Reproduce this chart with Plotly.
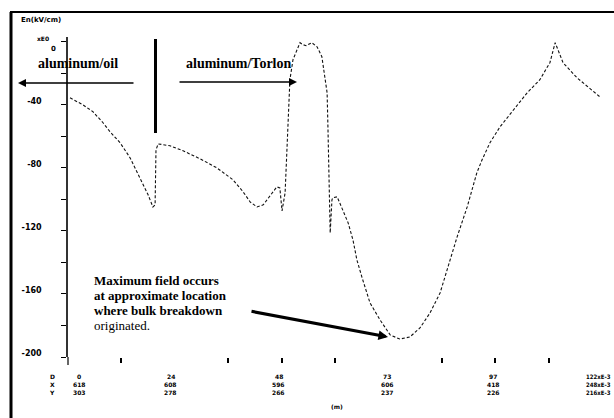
import plotly.graph_objects as go

# ---- data (distance along surface D, normal field En in kV/cm) ----
distance = [0.46, 3.4, 5.7, 8.0, 9.6, 11.9, 14.2, 16.4, 18.3, 19.4, 19.9, 20.1, 20.6,
            23.3, 26.3, 30.2, 34.0, 37.7, 40.0, 41.6, 43.2, 44.6, 46.2, 47.7, 48.4, 48.9,
            49.6, 50.0, 50.3, 50.5, 50.7, 51.4, 52.3, 53.0, 53.7, 54.4, 55.7, 56.9, 58.0,
            58.7, 59.2, 59.4, 59.6, 59.9, 60.3, 60.5, 61.5, 62.8, 64.0, 65.1, 66.0, 67.2,
            69.0, 71.3, 73.6, 75.8, 78.1, 80.4, 82.7, 85.0, 86.8, 88.9, 91.2, 93.4, 94.6,
            96.4, 98.7, 101.7, 104.9, 107.8, 110.1, 111.3, 113.1, 116.3, 121.5]
field = [-35.6, -40.0, -44.4, -51.4, -57.1, -64.1, -73.7, -85.7, -97.1, -104.8, -103.5, -68.6, -64.8,
         -66.0, -69.2, -74.3, -80.0, -87.6, -95.2, -101.6, -104.8, -103.5, -97.8, -92.1, -92.7, -107.3,
         -95.9, -70.5, -49.5, -36.8, -24.1, -11.4, -5.1, -0.6, -1.9, -2.5, -0.6, -3.2, -9.5,
         -22.2, -32.4, -55.9, -81.3, -121.3, -100.3, -99.0, -98.4, -106.7, -114.9, -125.7, -138.4, -149.8,
         -165.7, -176.5, -186.0, -188.6, -187.3, -181.6, -172.1, -159.4, -142.9, -123.8, -104.8, -83.2, -74.9,
         -64.1, -54.0, -43.2, -32.4, -24.1, -13.3, -0.6, -13.3, -22.9, -34.9]

y_tickvals = [0, -40, -80, -120, -160, -200]
y_ticktext = ["", "-40", "-80", "-120", "-160", "-200"]
y_zero_label = "0"
y_minor = [-20, -60, -100, -140, -180]
x_tickvals = [12.2, 36.6, 48.8, 61.0, 85.4, 97.6, 109.8]

# bottom readout table
row_names = ["D", "X", "Y"]
col_pos = [2.6, 23.5, 48.2, 72.9, 97.1]
col_d = ["0", "24", "48", "73", "97"]
col_x = ["618", "608", "596", "606", "418"]
col_y = ["303", "278", "266", "237", "226"]
last_col = ["122xE-3", "248xE-3", "216xE-3"]

W, H = 614, 418
L, R, T, B = 68, 12, 37, 61
PW, PH = W - L - R, H - T - B


def px(x):
    return (x - L) / PW


def py(y):
    return (H - B - y) / PH


fig = go.Figure()
fig.add_trace(go.Scatter(x=distance, y=field, mode="lines",
                         line=dict(color="#111111", width=1.1, dash="3px,2px"),
                         showlegend=False, hoverinfo="skip"))

sans = "DejaVu Sans"
narrow = "Liberation Sans Narrow, DejaVu Sans Condensed, Liberation Sans"
serif = "Liberation Serif"
ann = []

# header
ann.append(dict(text="<b>En(kV/cm)</b>", x=px(19), y=py(20), xanchor="left", yanchor="middle",
                font=dict(family=sans, size=7, color="black")))
ann.append(dict(text="<b>xE0</b>", x=px(35), y=py(39), xanchor="left", yanchor="middle",
                font=dict(family=sans, size=6, color="black")))
ann.append(dict(text="<b>%s</b>" % y_zero_label, x=px(49), y=py(49), xanchor="left", yanchor="middle",
                font=dict(family=sans, size=7, color="black")))

# region labels
ann.append(dict(text="<b>aluminum/oil</b>", x=px(36), y=py(63), xanchor="left", yanchor="middle",
                font=dict(family=serif, size=14, color="black")))
ann.append(dict(text="<b>aluminum/Torlon</b>", x=px(184), y=py(63), xanchor="left", yanchor="middle",
                font=dict(family=serif, size=14, color="black")))

# region arrows
ann.append(dict(text="", x=px(18), y=py(83), ax=117, ay=0, showarrow=True,
                arrowhead=2, arrowsize=1, arrowwidth=1.6, arrowcolor="black"))
ann.append(dict(text="", x=px(297), y=py(82), ax=-119, ay=0, showarrow=True,
                arrowhead=2, arrowsize=1, arrowwidth=1.6, arrowcolor="black"))

# note text
note = ["Maximum field occurs", "at approximate location", "where bulk breakdown", "originated."]
for i, line in enumerate(note):
    ann.append(dict(text=("<b>%s</b>" % line) if i < 3 else line, x=px(92), y=py(280 + 15 * i),
                    xanchor="left", yanchor="middle",
                    font=dict(family=serif, size=13, color="black")))
ann.append(dict(text="", x=px(388), y=py(337), ax=-138, ay=-26, showarrow=True,
                arrowhead=2, arrowsize=0.6, arrowwidth=3.2, arrowcolor="black"))

# bottom readout
row_y = [376, 384, 392]
for r, name in enumerate(row_names):
    ann.append(dict(text="<b>%s</b>" % name, x=px(52), y=py(row_y[r]), xanchor="center", yanchor="middle",
                    font=dict(family=sans, size=6, color="black")))
for c, xpos in enumerate(col_pos):
    for r, vals in enumerate([col_d, col_x, col_y]):
        ann.append(dict(text="<b>%s</b>" % vals[c], x=xpos, xref="x", y=py(row_y[r]),
                        xanchor="center", yanchor="middle",
                        font=dict(family=sans, size=6, color="black")))
for r, t in enumerate(last_col):
    ann.append(dict(text="<b>%s</b>" % t, x=px(612), y=py(row_y[r]), xanchor="right", yanchor="middle",
                    borderpad=0, font=dict(family=narrow, size=6, color="black")))
ann.append(dict(text="<b>(m)</b>", x=px(337), y=py(406), xanchor="center", yanchor="middle",
                font=dict(family=sans, size=6, color="black")))

for a in ann:
    a.setdefault("xref", "paper")
    a.setdefault("yref", "paper")
    a.setdefault("showarrow", False)

shapes = [
    # outer frame
    dict(type="line", xref="paper", yref="paper", x0=px(11), x1=px(11), y0=py(418), y1=py(12),
         line=dict(color="black", width=3)),
    dict(type="line", xref="paper", yref="paper", x0=px(10), x1=px(614), y0=py(12), y1=py(12),
         line=dict(color="black", width=2)),
    # separator bar
    dict(type="line", xref="paper", yref="paper", x0=px(155.5), x1=px(155.5), y0=py(133), y1=py(39),
         line=dict(color="black", width=3)),
    # y axis extension below plot
    dict(type="line", xref="paper", yref="paper", x0=px(68), x1=px(68), y0=py(357), y1=py(365),
         line=dict(color="#333333", width=1.5)),
]

fig.update_layout(
    width=W, height=H,
    margin=dict(l=L, r=R, t=T, b=B),
    paper_bgcolor="white", plot_bgcolor="white",
    annotations=ann, shapes=shapes, showlegend=False,
    xaxis=dict(range=[0, 122], showgrid=False, zeroline=False, showline=False,
               tickmode="array", tickvals=x_tickvals, showticklabels=False,
               ticks="outside", ticklen=5, tickwidth=1.5, tickcolor="black"),
    yaxis=dict(range=[-200, 3], showgrid=False, zeroline=False, showline=True,
               linecolor="#333333", linewidth=1.5,
               tickmode="array", tickvals=y_tickvals,
               ticktext=[("<b>%s</b>" % t) if t else "" for t in y_ticktext],
               ticks="outside", ticklen=5, tickwidth=1.2, tickcolor="black",
               ticklabelstandoff=18, ticklabelshift=-4,
               tickfont=dict(family=sans, size=8, color="black"),
               minor=dict(tickmode="array", tickvals=y_minor, ticks="outside", ticklen=5,
                          tickwidth=1.2, tickcolor="black", showgrid=False)),
)

fig.write_html("out.html", config={"displayModeBar": False},
               post_script="document.body.style.margin='0';document.body.style.overflow='hidden';")
